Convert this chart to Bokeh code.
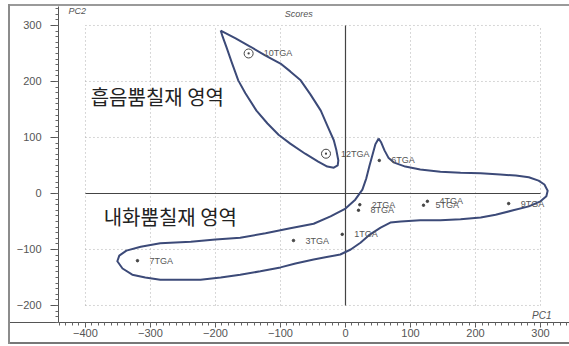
from bokeh.plotting import figure
from bokeh.models import Range1d, SingleIntervalTicker, Label, ColumnDataSource
from bokeh.core.properties import value
from bokeh.embed import file_html
from bokeh.resources import INLINE

# PCA scores (PC1, PC2) per sample
absorb_names = ["10TGA", "12TGA"]
absorb_pc1 = [-149, -30]
absorb_pc2 = [250, 71]

fire_names = ["6TGA", "2TGA", "8TGA", "4TGA", "5TGA", "9TGA", "3TGA", "1TGA", "7TGA"]
fire_pc1 = [52, 22, 20, 126, 120, 251, -80, -5, -320]
fire_pc2 = [59, -20, -30, -14, -21, -18, -84, -73, -120]

# region outlines (PC1, PC2)
absorb_zone_pc1 = [-192, -169, -146, -123, -100, -85, -69, -54, -38, -28, -18, -14, -11, -12,
                   -18, -28, -42, -62, -85, -103, -120, -137, -154, -165, -175, -183, -189, -192]
absorb_zone_pc2 = [291, 277, 262, 246, 232, 218, 202, 177, 148, 121, 95, 77, 59, 50,
                   46, 48, 57, 71, 89, 105, 125, 148, 179, 202, 234, 261, 280, 291]

fire_zone_pc1 = [51, 55, 60, 66, 75, 92, 115, 146, 177, 208, 238, 262, 282, 297, 306, 311, 309,
                 300, 282, 258, 231, 208, 177, 146, 115, 85, 69, 54, 38, 23, 8, -8, -31, -49,
                 -77, -100, -131, -162, -192, -223, -254, -285, -308, -328, -343, -351, -348,
                 -337, -315, -285, -238, -200, -162, -123, -85, -49, -23, 0, 15, 26, 32, 37,
                 42, 46, 51]
fire_zone_pc2 = [98, 91, 77, 64, 55, 48, 43, 39, 37, 36, 34, 32, 29, 23, 16, 5, -5,
                 -14, -23, -30, -38, -43, -46, -48, -48, -50, -52, -61, -73, -88, -100, -109,
                 -114, -118, -125, -132, -139, -145, -150, -154, -154, -154, -150, -145, -134,
                 -121, -111, -102, -95, -89, -86, -82, -79, -71, -62, -54, -41, -27, -11, 7,
                 27, 50, 71, 88, 98]

grid_pc1 = [-400, -300, -200, -100, 100, 200, 300]
grid_pc2 = [-200, -100, 100, 200, 300]
pc1_span = (-400, 300)
pc2_span = (-200, 300)

FONT = "Liberation Sans"
KFONT = "Noto Sans CJK KR"
LINE = "#3c4a78"

p = figure(width=569, height=346,
           x_range=Range1d(-441.5, 344.6), y_range=Range1d(-230.4, 333.9),
           output_backend="svg", toolbar_location=None,
           min_border_left=58, min_border_right=0, min_border_top=6, min_border_bottom=24)

# grey panel frame around the chart, painted behind the (transparent) canvas border area,
# plus the axis rule continued under the value column
panel_rules = [
    ("#8c8c8c", "8px 4px / 2px 340px"),    # left edge
    ("#9a9a9a", "8px 4px / 561px 2px"),    # top edge
    ("#777777", "8px 342px / 561px 2px"),  # bottom edge
    ("#555555", "8px 322px / 50px 1px"),   # rule under the value column
]
p.styles = {"background": ", ".join(
    f"linear-gradient({c}, {c}) {geom} no-repeat" for c, geom in panel_rules) + ", white"}
p.background_fill_color = "white"
p.border_fill_color = None
p.outline_line_color = None
p.xgrid.visible = False
p.ygrid.visible = False

# axes
for ax in (p.xaxis[0], p.yaxis[0]):
    ax.ticker = SingleIntervalTicker(interval=100, num_minor_ticks=10)
    ax.axis_line_color = "#555555"
    ax.major_tick_line_color = "#555555"
    ax.minor_tick_line_color = "#666666"
    ax.major_tick_in = 0
    ax.minor_tick_in = 0
    ax.major_label_text_font = FONT
    ax.major_label_text_font_size = "11px"
    ax.major_label_text_color = "#555555"
p.yaxis.major_tick_out = 8
p.yaxis.minor_tick_out = 3
p.yaxis.major_label_standoff = 9
p.xaxis.major_tick_out = 5
p.xaxis.minor_tick_out = 3
p.xaxis.major_label_standoff = 1

# dotted grid limited to the labelled square
p.segment(x0=grid_pc1, x1=grid_pc1, y0=[pc2_span[0]] * len(grid_pc1), y1=[pc2_span[1]] * len(grid_pc1),
          line_color="#b0b0b0", line_dash="1 3", line_width=1)
p.segment(x0=[pc1_span[0]] * len(grid_pc2), x1=[pc1_span[1]] * len(grid_pc2), y0=grid_pc2, y1=grid_pc2,
          line_color="#b0b0b0", line_dash="1 3", line_width=1)

# zero lines
p.segment(x0=[pc1_span[0], 0], x1=[pc1_span[1], 0], y0=[0, pc2_span[0]], y1=[0, pc2_span[1]],
          line_color="#444444", line_width=1.2)

# region outlines
p.line(absorb_zone_pc1, absorb_zone_pc2, line_color=LINE, line_width=2, line_join="round")
p.line(fire_zone_pc1, fire_zone_pc2, line_color=LINE, line_width=2, line_join="round")

# points
src_a = ColumnDataSource(dict(x=absorb_pc1, y=absorb_pc2, name=absorb_names))
src_f = ColumnDataSource(dict(x=fire_pc1, y=fire_pc2, name=fire_names))
p.scatter("x", "y", source=src_a, marker="circle_dot", size=9, line_color="#444444",
          fill_color=None, line_width=1)
p.scatter("x", "y", source=src_f, marker="circle", size=2.5, color="#444444")
for src, off in ((src_a, 15), (src_f, 12)):
    p.text("x", "y", text="name", source=src, x_offset=off, text_baseline="middle",
           text_font=value(FONT), text_font_size="9px", text_color="#555555")

# titles and region names
p.add_layout(Label(x=-72, y=320, text="Scores", text_align="center", text_baseline="middle",
                   text_font=FONT, text_font_size="9px", text_font_style="italic", text_color="#555555"))
p.add_layout(Label(x=-426, y=325, text="PC2", text_align="left", text_baseline="middle",
                   text_font=FONT, text_font_size="9px", text_font_style="italic", text_color="#555555"))
p.add_layout(Label(x=317, y=-218, text="PC1", text_align="right", text_baseline="middle",
                   text_font=FONT, text_font_size="10px", text_font_style="italic", text_color="#555555"))
p.add_layout(Label(x=-392, y=173, text="흡음뿜칠재 영역", text_align="left", text_baseline="middle",
                   text_font=KFONT, text_font_size="20px", text_color="#222222"))
p.add_layout(Label(x=-372, y=-41, text="내화뿜칠재 영역", text_align="left", text_baseline="middle",
                   text_font=KFONT, text_font_size="20px", text_color="#222222"))

open("out.html", "w").write(file_html(p, INLINE))
